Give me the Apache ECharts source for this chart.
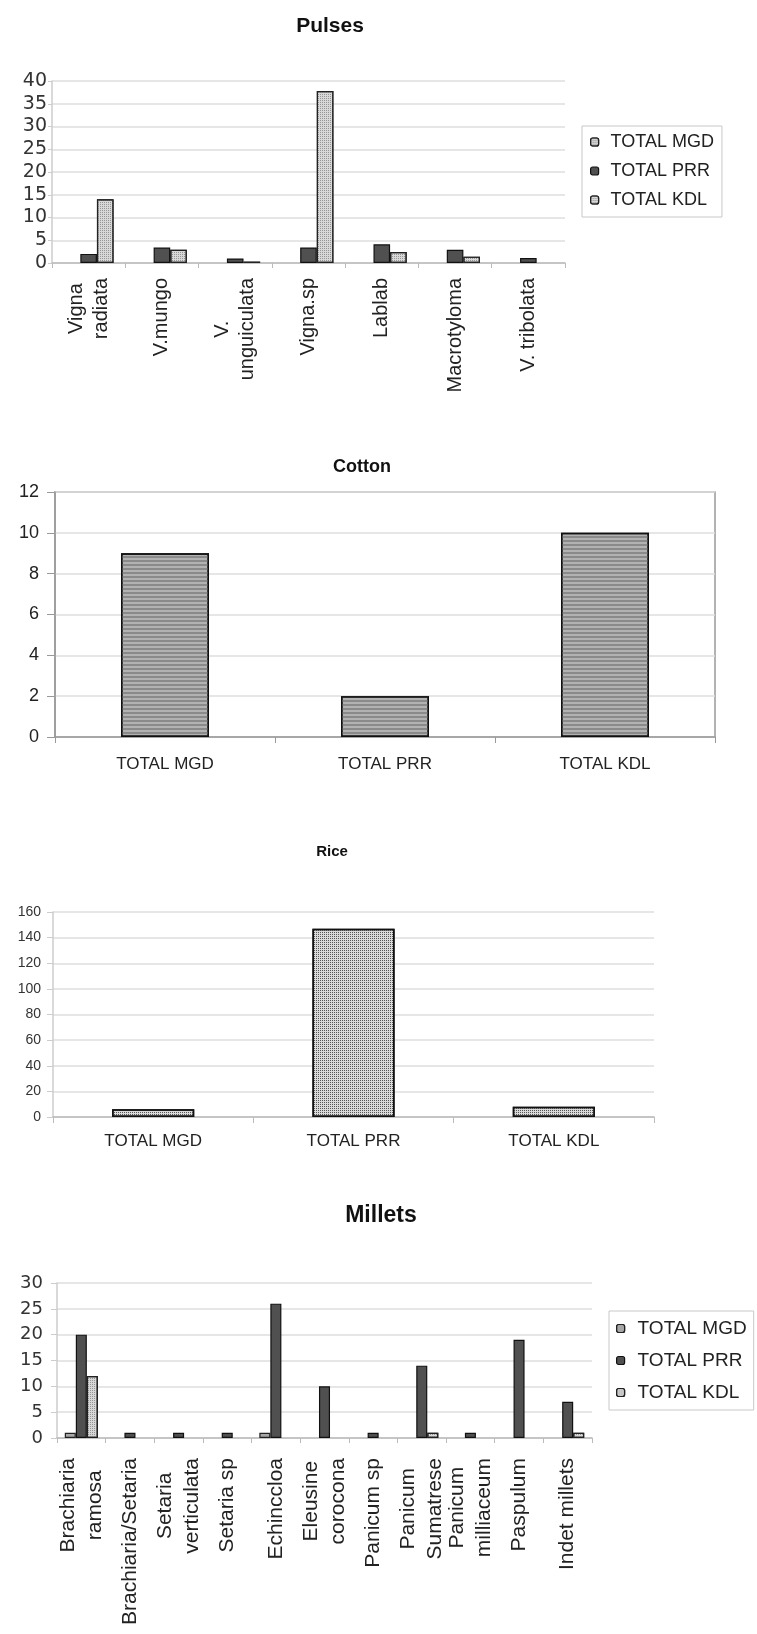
<!DOCTYPE html>
<html><head><meta charset="utf-8">
<script src="https://cdn.jsdelivr.net/npm/echarts/dist/echarts.min.js"></script>
<style>html,body{margin:0;padding:0;background:#fff}#c{width:757px;height:1634px}</style>
</head><body><div id="c"></div>
<script>
// ---- data ----
const seriesNames = ['TOTAL MGD', 'TOTAL PRR', 'TOTAL KDL'];

const pulseCategories = ['Vigna\nradiata', 'V.mungo', 'V.\nunguiculata', 'Vigna.sp', 'Lablab', 'Macrotyloma', 'V. tribolata'];
const pulseMGD = [0, 0, 0, 0, 0, 0, 0];
const pulsePRR = [2, 3.4, 1, 3.4, 4.1, 2.9, 1.1];
const pulseKDL = [14, 2.9, 0.3, 37.8, 2.4, 1.4, 0];
const pulseTicks = [0, 5, 10, 15, 20, 25, 30, 35, 40];

const cottonCategories = ['TOTAL MGD', 'TOTAL PRR', 'TOTAL KDL'];
const cottonValues = [9, 2, 10];
const cottonTicks = [0, 2, 4, 6, 8, 10, 12];

const riceCategories = ['TOTAL MGD', 'TOTAL PRR', 'TOTAL KDL'];
const riceValues = [6, 147, 8];
const riceTicks = [0, 20, 40, 60, 80, 100, 120, 140, 160];

const milletCategories = ['Brachiaria\nramosa', 'Brachiaria/Setaria', 'Setaria\nverticulata', 'Setaria sp', 'Echinccloa',
  'Eleusine\ncorocona', 'Panicum sp', 'Panicum\nSumatrese', 'Panicum\nmilliaceum', 'Paspulum', 'Indet millets'];
const milletMGD = [1, 0, 0, 0, 1, 0, 0, 0, 0, 0, 0];
const milletPRR = [20, 1, 1, 1, 26, 10, 1, 14, 1, 19, 7];
const milletKDL = [12, 0, 0, 0, 0, 0, 0, 1, 0, 0, 1];
const milletTicks = [0, 5, 10, 15, 20, 25, 30];

// ---- styles ----
const DJ = '"DejaVu Sans", sans-serif';
const LS = '"Liberation Sans", Arial, sans-serif';
const dots = (c) => ({ symbol: 'rect', symbolSize: 1, dashArrayX: [1, 1], dashArrayY: [1, 1], color: c });
const hstripes = (c) => ({ symbol: 'rect', symbolSize: 1, dashArrayX: [1, 0], dashArrayY: [2, 2], color: c });

const styMGD_p = { color: '#cfcfcf', borderColor: '#222', borderWidth: 1.2, decal: dots('#a0a0a0') };
const styPRR = { color: '#505050', borderColor: '#111', borderWidth: 1.2 };
const styKDL = { color: '#d8d8d8', borderColor: '#222', borderWidth: 1.2, decal: dots('#959595') };
const styMGD_m = { color: '#a8a8a8', borderColor: '#222', borderWidth: 1.2 };

// zero counts are drawn as no bar at all
const bars = (arr) => arr.map(v => (v === 0 ? '-' : v));

function rotLabels(fs, lh, margin) {
  return {
    interval: 0, rotate: 90, margin: margin,
    formatter: (v) => v.split('\n').map(l => '{c|' + l + '}').join('\n'),
    rich: { c: { align: 'center', fontSize: fs, lineHeight: lh, fontFamily: LS, color: '#222' } }
  };
}
function tickRange(t) { return { min: t[0], max: t[t.length - 1], interval: t[1] - t[0] }; }

const gridLine = { lineStyle: { color: '#dedede', width: 1.5 } };

const option = {
  animation: false,
  backgroundColor: '#fff',
  graphic: [
    { type: 'text', x: 330, y: 26, style: { text: 'Pulses', fontSize: 21, fontWeight: 'bold', fontFamily: LS, fill: '#111', align: 'center', verticalAlign: 'middle' } },
    { type: 'text', x: 362, y: 467, style: { text: 'Cotton', fontSize: 18, fontWeight: 'bold', fontFamily: LS, fill: '#111', align: 'center', verticalAlign: 'middle' } },
    { type: 'text', x: 332, y: 852, style: { text: 'Rice', fontSize: 15, fontWeight: 'bold', fontFamily: LS, fill: '#111', align: 'center', verticalAlign: 'middle' } },
    { type: 'text', x: 381, y: 1216, style: { text: 'Millets', fontSize: 23, fontWeight: 'bold', fontFamily: LS, fill: '#111', align: 'center', verticalAlign: 'middle' } }
  ],
  legend: [
    {
      orient: 'vertical', left: 582, top: 126, selectedMode: false,
      borderColor: '#c8c8c8', borderWidth: 1, padding: [7, 8, 8, 8], itemGap: 11,
      itemWidth: 8, itemHeight: 8,
      textStyle: { fontSize: 18, fontFamily: LS, color: '#222', padding: [0, 0, 0, 7] },
      data: [
        { name: 'TOTAL MGD', itemStyle: styMGD_p },
        { name: 'TOTAL PRR', itemStyle: styPRR },
        { name: 'TOTAL KDL', itemStyle: styKDL }
      ]
    },
    {
      orient: 'vertical', left: 609, top: 1311, selectedMode: false,
      borderColor: '#c8c8c8', borderWidth: 1, padding: [8, 7, 8, 7], itemGap: 13,
      itemWidth: 8, itemHeight: 8,
      textStyle: { fontSize: 19, fontFamily: LS, color: '#222', padding: [0, 0, 0, 8] },
      data: [
        { name: 'TOTAL MGD', itemStyle: styMGD_m },
        { name: 'TOTAL PRR', itemStyle: styPRR },
        { name: 'TOTAL KDL', itemStyle: styKDL }
      ]
    }
  ],
  grid: [
    { left: 52, top: 81, width: 513, height: 182, outerBoundsMode: 'none' },
    { left: 55, top: 492, width: 660, height: 245, show: true, borderColor: '#999', borderWidth: 1.5, outerBoundsMode: 'none' },
    { left: 53, top: 912, width: 601, height: 205, outerBoundsMode: 'none' },
    { left: 57, top: 1283, width: 535, height: 155, outerBoundsMode: 'none' }
  ],
  xAxis: [
    { type: 'category', gridIndex: 0, data: pulseCategories,
      axisLine: { lineStyle: { color: '#bbb', width: 1.5 } }, axisTick: { show: true, length: 5, lineStyle: { color: '#bbb' } },
      axisLabel: rotLabels(20, 25, 15) },
    { type: 'category', gridIndex: 1, data: cottonCategories,
      axisLine: { lineStyle: { color: '#999', width: 1.5 } }, axisTick: { show: true, length: 6, lineStyle: { color: '#999' } },
      axisLabel: { interval: 0, margin: 19, fontSize: 17, fontFamily: LS, color: '#222' } },
    { type: 'category', gridIndex: 2, data: riceCategories,
      axisLine: { lineStyle: { color: '#bbb', width: 1.5 } }, axisTick: { show: true, length: 6, lineStyle: { color: '#bbb' } },
      axisLabel: { interval: 0, margin: 16, fontSize: 17, fontFamily: LS, color: '#222' } },
    { type: 'category', gridIndex: 3, data: milletCategories,
      axisLine: { lineStyle: { color: '#bbb', width: 1.5 } }, axisTick: { show: true, length: 5, lineStyle: { color: '#bbb' } },
      axisLabel: rotLabels(21, 27, 20) }
  ],
  yAxis: [
    Object.assign({ type: 'value', gridIndex: 0,
      axisLine: { show: true, lineStyle: { color: '#ccc', width: 1.5 } }, axisTick: { show: true, length: 4, lineStyle: { color: '#ccc' } },
      splitLine: gridLine, axisLabel: { margin: 5, fontSize: 19, fontFamily: DJ, color: '#333' } }, tickRange(pulseTicks)),
    Object.assign({ type: 'value', gridIndex: 1,
      axisLine: { show: true, lineStyle: { color: '#999', width: 1.5 } }, axisTick: { show: true, length: 8, lineStyle: { color: '#999' } },
      splitLine: gridLine, axisLabel: { margin: 16, fontSize: 18, fontFamily: LS, color: '#222' } }, tickRange(cottonTicks)),
    Object.assign({ type: 'value', gridIndex: 2,
      axisLine: { show: true, lineStyle: { color: '#ccc', width: 1.5 } }, axisTick: { show: true, length: 6, lineStyle: { color: '#ccc' } },
      splitLine: gridLine, axisLabel: { margin: 12, fontSize: 14, fontFamily: LS, color: '#333' } }, tickRange(riceTicks)),
    Object.assign({ type: 'value', gridIndex: 3,
      axisLine: { show: true, lineStyle: { color: '#ccc', width: 1.5 } }, axisTick: { show: true, length: 6, lineStyle: { color: '#ccc' } },
      splitLine: gridLine, axisLabel: { margin: 14, fontSize: 18, fontFamily: DJ, color: '#333' } }, tickRange(milletTicks))
  ],
  series: [
    { name: seriesNames[0], type: 'bar', xAxisIndex: 0, yAxisIndex: 0, data: bars(pulseMGD), itemStyle: styMGD_p, barGap: '0%', barCategoryGap: '32%' },
    { name: seriesNames[1], type: 'bar', xAxisIndex: 0, yAxisIndex: 0, data: bars(pulsePRR), itemStyle: styPRR, barGap: '0%', barCategoryGap: '32%' },
    { name: seriesNames[2], type: 'bar', xAxisIndex: 0, yAxisIndex: 0, data: bars(pulseKDL), itemStyle: styKDL, barGap: '0%', barCategoryGap: '32%' },
    { name: 'Cotton', type: 'bar', xAxisIndex: 1, yAxisIndex: 1, data: cottonValues, barWidth: '40%',
      itemStyle: { color: '#b2b2b2', borderColor: '#111', borderWidth: 1.5, decal: hstripes('#8a8a8a') } },
    { name: 'Rice', type: 'bar', xAxisIndex: 2, yAxisIndex: 2, data: riceValues, barWidth: '41%',
      itemStyle: { color: '#dadada', borderColor: '#111', borderWidth: 1.5, decal: dots('#555') } },
    { name: seriesNames[0], type: 'bar', xAxisIndex: 3, yAxisIndex: 3, data: bars(milletMGD), itemStyle: styMGD_m, barGap: '0%', barCategoryGap: '32%' },
    { name: seriesNames[1], type: 'bar', xAxisIndex: 3, yAxisIndex: 3, data: bars(milletPRR), itemStyle: styPRR, barGap: '0%', barCategoryGap: '32%' },
    { name: seriesNames[2], type: 'bar', xAxisIndex: 3, yAxisIndex: 3, data: bars(milletKDL), itemStyle: styKDL, barGap: '0%', barCategoryGap: '32%' }
  ]
};
option.series.forEach(s => { s.emphasis = { disabled: true }; s.silent = true; });
const chart = echarts.init(document.getElementById('c'), null, { renderer: 'canvas' });
chart.setOption(option);
</script>
</body></html>
